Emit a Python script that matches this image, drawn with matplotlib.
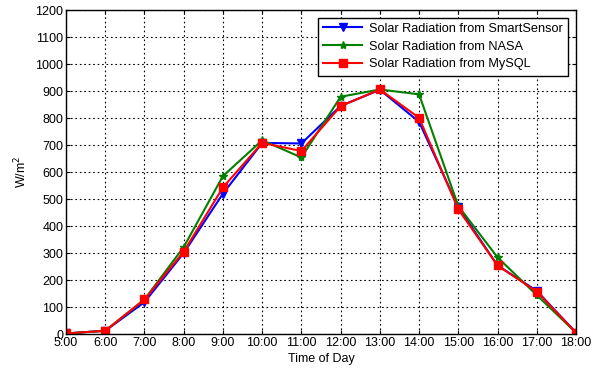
import matplotlib
matplotlib.use("Agg")
import matplotlib.pyplot as plt

plt.rcParams['font.family'] = ['Liberation Sans', 'DejaVu Sans']

hours = ["5:00", "6:00", "7:00", "8:00", "9:00", "10:00", "11:00", "12:00",
         "13:00", "14:00", "15:00", "16:00", "17:00", "18:00"]
smartsensor = [2, 12, 118, 300, 520, 708, 706, 845, 905, 786, 470, 254, 160, 5]
nasa = [2, 12, 128, 322, 585, 718, 654, 879, 906, 888, 474, 284, 144, 5]
mysql = [2, 12, 128, 305, 543, 708, 678, 844, 906, 801, 462, 254, 157, 5]
yticks = list(range(0, 1201, 100))

x = list(range(len(hours)))

fig = plt.figure(figsize=(6.0, 3.71), dpi=100)
ax = fig.add_axes([0.11, 0.0997, 0.85, 0.873])

ax.plot(x, smartsensor, color='#0000ff', lw=1.5, marker='v', ms=6,
        label='Solar Radiation from SmartSensor')
ax.plot(x, nasa, color='#008000', lw=1.5, marker='*', ms=6,
        label='Solar Radiation from NASA')
ax.plot(x, mysql, color='#ff0000', lw=1.5, marker='s', ms=6,
        label='Solar Radiation from MySQL')

ax.set_xlim(0, len(hours) - 1)
ax.set_ylim(0, 1200)
ax.set_xticks(x)
ax.set_xticklabels(hours)
ax.set_yticks(yticks)
ax.tick_params(direction='in', length=3, labelsize=9, top=True, right=True, pad=2)
ax.grid(True, color='black', linestyle=(0, (1.5, 2.5)), linewidth=0.8)
for s in ax.spines.values():
    s.set_linewidth(1.0)

ax.set_xlabel('Time of Day', fontsize=9, labelpad=3)
ax.set_ylabel('W/m$^2$', fontsize=9, labelpad=4)

leg = ax.legend(loc='upper right', fontsize=9.2, fancybox=False, framealpha=1,
                edgecolor='black', borderpad=0.4, handlelength=3.0,
                labelspacing=0.45, borderaxespad=0.6, handletextpad=0.6)
leg.get_frame().set_linewidth(1.0)

fig.savefig('out.png', dpi=100)
